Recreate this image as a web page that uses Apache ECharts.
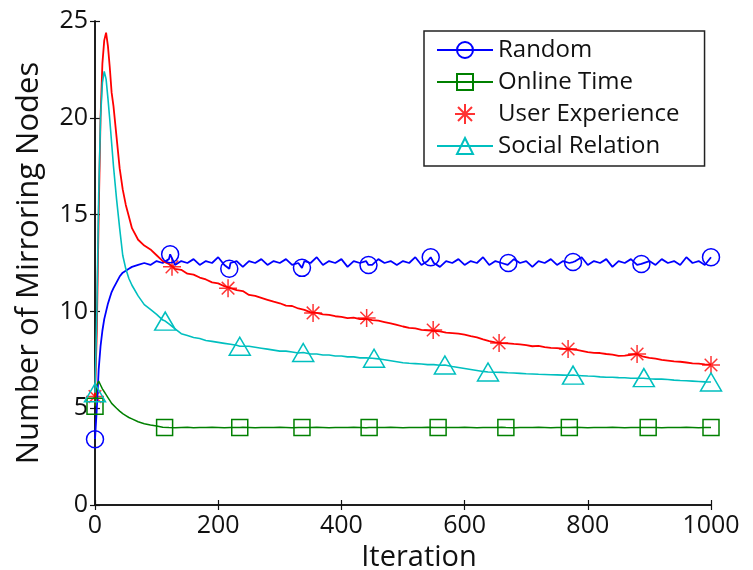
<!DOCTYPE html>
<html>
<head>
<meta charset="utf-8">
<script src="https://cdn.jsdelivr.net/npm/echarts@6/dist/echarts.min.js"></script>
<style>html,body{margin:0;padding:0;background:#fff}#c{width:753px;height:570px}</style>
</head>
<body>
<div id="c"></div>
<script>
// Shared iteration grid for the curves
const iterations = [0,3,6,9,12,15,18,21,24,27,30,35,40,45,50,55,60,70,80,90,
  100,110,120,130,140,150,160,170,180,190,200,210,220,230,240,250,260,270,280,290,
  300,310,320,330,340,350,360,370,380,390,400,410,420,430,440,450,460,470,480,490,
  500,510,520,530,540,550,560,570,580,590,600,610,620,630,640,650,660,670,680,690,
  700,710,720,730,740,750,760,770,780,790,800,810,820,830,840,850,860,870,880,890,
  900,910,920,930,940,950,960,970,980,990,1000];

const randomVal = [3.4,5.0,7.0,8.2,9.0,9.6,10.0,10.4,10.7,11.0,11.2,11.5,11.8,12.0,12.1,12.2,12.3,12.4,12.5,12.4,
  12.6,12.5,12.7,12.4,12.6,12.5,12.7,12.4,12.6,12.5,12.8,12.4,12.5,12.6,12.3,12.6,12.5,12.7,12.4,12.6,
  12.5,12.7,12.4,12.5,12.6,12.5,12.8,12.4,12.6,12.5,12.7,12.3,12.6,12.5,12.6,12.4,12.7,12.5,12.6,12.4,
  12.6,12.5,12.8,12.4,12.6,12.5,12.3,12.6,12.5,12.7,12.4,12.6,12.5,12.8,12.4,12.6,12.5,12.4,12.7,12.5,
  12.6,12.3,12.6,12.5,12.7,12.4,12.6,12.5,12.6,12.8,12.4,12.6,12.5,12.7,12.3,12.6,12.5,12.7,12.4,12.5,
  12.6,12.4,12.7,12.5,12.6,12.4,12.8,12.5,12.6,12.4,12.6];

const onlineVal = [5.1,6.2,6.4,6.2,6.0,5.85,5.7,5.55,5.4,5.25,5.15,5.0,4.85,4.72,4.62,4.52,4.45,4.3,4.2,4.13,
  4.08,4.02,4.0,3.99,4.0,4.01,3.99,4.0,4.0,4.01,4.0,3.99,4.0,4.0,4.01,4.0,3.99,4.0,4.0,4.0,
  4.01,4.0,3.99,4.0,4.0,4.0,4.01,4.0,3.99,4.0,4.0,4.0,4.01,4.0,3.99,4.0,4.0,4.0,4.01,4.0,
  3.99,4.0,4.0,4.0,4.01,4.0,3.99,4.0,4.0,4.0,4.01,4.0,3.99,4.0,4.0,4.0,4.01,4.0,3.99,4.0,
  4.0,4.0,4.01,4.0,3.99,4.0,4.0,4.0,4.01,4.0,3.99,4.0,4.0,4.0,4.01,4.0,3.99,4.0,4.0,4.0,
  4.01,4.0,3.99,4.0,4.0,4.0,4.01,4.0,3.99,4.0,4.0];

const userVal = [5.6,9.0,15.0,20.0,22.8,24.0,24.4,23.7,22.6,21.3,20.6,19.0,17.4,16.3,15.5,14.9,14.3,13.7,13.4,13.2,
  12.9,12.6,12.45,12.2,12.15,11.95,11.9,11.75,11.65,11.5,11.45,11.3,11.2,11.1,11.05,10.85,10.8,10.7,10.6,10.5,
  10.42,10.3,10.28,10.15,10.08,9.95,9.92,9.85,9.82,9.75,9.72,9.65,9.68,9.6,9.62,9.55,9.52,9.45,9.38,9.3,
  9.22,9.15,9.12,9.05,9.02,9.0,8.97,8.9,8.88,8.85,8.8,8.72,8.66,8.56,8.47,8.4,8.36,8.35,8.32,8.3,
  8.26,8.2,8.22,8.15,8.12,8.1,8.07,8.05,8.02,7.96,7.9,7.86,7.85,7.8,7.77,7.7,7.72,7.76,7.8,7.66,
  7.6,7.56,7.5,7.46,7.42,7.4,7.36,7.32,7.3,7.26,7.25];

const socialVal = [5.8,10.0,16.0,20.0,21.8,22.4,22.0,21.0,19.9,18.7,17.5,15.8,14.3,12.9,12.2,11.7,11.35,10.8,10.35,10.1,
  9.85,9.55,9.35,9.1,8.85,8.75,8.65,8.6,8.5,8.45,8.4,8.35,8.3,8.25,8.2,8.2,8.15,8.1,8.05,8.0,
  7.95,7.95,7.9,7.85,7.85,7.8,7.8,7.75,7.75,7.7,7.7,7.65,7.65,7.6,7.6,7.58,7.55,7.5,7.45,7.4,
  7.35,7.32,7.3,7.28,7.25,7.25,7.22,7.2,7.15,7.1,7.05,7.0,6.95,6.9,6.88,6.86,6.85,6.83,6.82,6.8,
  6.78,6.77,6.75,6.74,6.73,6.72,6.71,6.7,6.7,6.68,6.66,6.65,6.62,6.6,6.6,6.58,6.57,6.55,6.55,6.55,
  6.52,6.5,6.5,6.48,6.45,6.43,6.42,6.4,6.38,6.36,6.35];

// Marker points
const randomMarkIter = [0,122,218,336,444,545,671,776,887,1000];
const randomMarkVal  = [3.4,12.95,12.2,12.25,12.4,12.8,12.5,12.55,12.45,12.8];
const onlineMarkIter = [0,113,235,336,445,557,667,770,898,1000];
const onlineMarkVal  = [5.1,4.0,4.0,4.0,4.0,4.0,4.0,4.0,4.0,4.0];
const userMarkIter   = [0,125,216,354,441,549,656,768,880,1000];
const userMarkVal    = [5.6,12.3,11.2,9.92,9.66,9.04,8.37,8.06,7.8,7.23];
const socialMarkIter = [0,114,235,338,453,568,638,776,891,1000];
const socialMarkVal  = [5.8,9.5,8.2,7.88,7.58,7.23,6.87,6.71,6.58,6.35];

const xTicks = [0,200,400,600,800,1000];
const yTicks = [0,5,10,15,20,25];

function merged(vals, mIter, mVal) {
  const pts = [];
  const mset = new Set(mIter);
  iterations.forEach((it, i) => { if (!mset.has(it)) pts.push({value:[it, vals[i]], symbol:'none'}); });
  mIter.forEach((it, i) => pts.push({value:[it, mVal[i]]}));
  pts.sort((a,b) => a.value[0]-b.value[0]);
  return pts;
}
function pairs(xs, ys){ return xs.map((x,i)=>[x, ys[i]]); }

const FONT = 'Open Sans';
const BLUE='#0000ff', GREEN='#008000', RED='#ff0000', CYAN='#00bfbf';
const asterisk = 'path://M10 0L10 20M0 10L20 10M3 3L17 17M3 17L17 3';

const chart = echarts.init(document.getElementById('c'), null, {renderer:'canvas'});
const axisCommon = {
  type:'value',
  axisLine:{show:true, lineStyle:{color:'#111', width:1.5}},
  axisTick:{show:true, inside:true, length:5, lineStyle:{color:'#111', width:1.2}},
  splitLine:{show:false}
};
const plain = v => String(v);
chart.setOption({
  animation:false,
  backgroundColor:'#fff',
  textStyle:{fontFamily:FONT},
  grid:{left:95, right:42, top:21, bottom:65, containLabel:false, outerBoundsMode:'none'},
  legend:{
    orient:'vertical', left:424, top:31,
    data:['Random','Online Time','User Experience','Social Relation'],
    backgroundColor:'#fff', borderColor:'#222', borderWidth:1.5,
    padding:[7,25,8,12], itemWidth:56, itemHeight:20, itemGap:8,
    textStyle:{fontFamily:FONT, fontSize:24, color:'#111'},
    selectedMode:false
  },
  xAxis:[
    Object.assign({}, axisCommon, {min:xTicks[0], max:xTicks[xTicks.length-1], interval:xTicks[1]-xTicks[0],
      position:'bottom', name:'Iteration', nameLocation:'middle', nameGap:25,
      nameTextStyle:{fontFamily:FONT, fontSize:29, color:'#111', padding:[0,0,0,32]},
      axisLabel:{fontFamily:FONT, fontSize:25, color:'#111', margin:8, formatter:plain}}),
    Object.assign({}, axisCommon, {min:xTicks[0], max:xTicks[xTicks.length-1], interval:xTicks[1]-xTicks[0],
      position:'top', axisLabel:{show:false}})
  ],
  yAxis:[
    Object.assign({}, axisCommon, {min:yTicks[0], max:yTicks[yTicks.length-1], interval:yTicks[1]-yTicks[0],
      position:'left', name:'Number of Mirroring Nodes', nameLocation:'middle', nameGap:50,
      nameTextStyle:{fontFamily:FONT, fontSize:31, color:'#111'},
      axisLabel:{fontFamily:FONT, fontSize:25, color:'#111', margin:7, formatter:plain}}),
    Object.assign({}, axisCommon, {min:yTicks[0], max:yTicks[yTicks.length-1], interval:yTicks[1]-yTicks[0],
      position:'right', axisLabel:{show:false}})
  ],
  series:[
    {name:'Random', type:'line', data:merged(randomVal, randomMarkIter, randomMarkVal),
      symbol:'circle', symbolSize:17, showAllSymbol:true, silent:true,
      lineStyle:{color:BLUE, width:1.8}, itemStyle:{color:'rgba(0,0,0,0)', borderColor:BLUE, borderWidth:1.5}},
    {name:'Online Time', type:'line', data:merged(onlineVal, onlineMarkIter, onlineMarkVal),
      symbol:'rect', symbolSize:16, showAllSymbol:true, silent:true,
      lineStyle:{color:GREEN, width:1.5}, itemStyle:{color:'rgba(0,0,0,0)', borderColor:GREEN, borderWidth:1.5}},
    {name:'User Experience line', type:'line', data:pairs(iterations, userVal),
      symbol:'none', silent:true, lineStyle:{color:RED, width:1.8}, itemStyle:{color:RED}},
    {name:'User Experience', type:'scatter', data:pairs(userMarkIter, userMarkVal),
      symbol:asterisk, symbolSize:18, symbolKeepAspect:true, silent:true,
      itemStyle:{color:RED, borderColor:RED, borderWidth:1.5}},
    {name:'Social Relation', type:'line', data:merged(socialVal, socialMarkIter, socialMarkVal),
      symbol:'triangle', symbolSize:[21,18], showAllSymbol:true, silent:true,
      lineStyle:{color:CYAN, width:1.6}, itemStyle:{color:'rgba(0,0,0,0)', borderColor:CYAN, borderWidth:1.5}}
  ]
});
</script>
</body>
</html>
